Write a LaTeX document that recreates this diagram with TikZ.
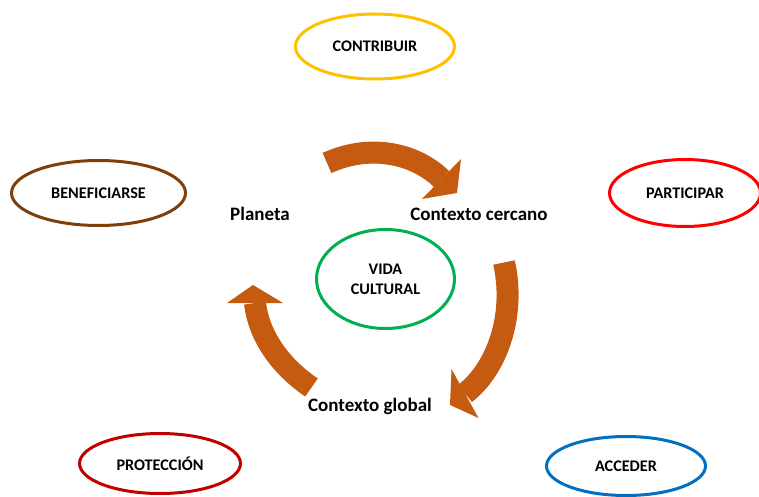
\documentclass[tikz,border=0pt]{standalone}
\usepackage{fontspec}
\setmainfont{Carlito}[BoldFont={Carlito Bold}]
\usetikzlibrary{shapes.geometric}
\definecolor{cyclebrown}{HTML}{C55A11}
\definecolor{ovalgold}{HTML}{FFC000}
\definecolor{ovalbrown}{HTML}{7F3F0A}
\definecolor{ovalred}{HTML}{FF0000}
\definecolor{ovaldarkred}{HTML}{C00000}
\definecolor{ovalblue}{HTML}{0070C0}
\definecolor{ovalgreen}{HTML}{00B050}
\begin{document}
\begin{tikzpicture}[x=1pt,y=-1pt,
        oval/.style={ellipse,line width=3pt,inner sep=0pt,align=center,
            font=\bfseries\fontsize{16.2}{20}\selectfont},
        ctxtext/.style={anchor=base,inner sep=0pt,font=\bfseries\fontsize{19}{23}\selectfont},
        cyclebody/.style={draw=cyclebrown,line width=22pt},
        cyclehead/.style={fill=cyclebrown}]
    \useasboundingbox (0,0) rectangle (759,497);
    % ovals round the cycle
    \node[oval,draw=ovalgold,minimum width=159pt,minimum height=65pt] (contribuir) at (375,46.5) {CONTRIBUIR};
    \node[oval,draw=ovalbrown,minimum width=174pt,minimum height=65pt] (beneficiarse) at (98.5,193) {BENEFICIARSE};
    \node[oval,draw=ovalred,minimum width=151pt,minimum height=67pt] (participar) at (685,193) {PARTICIPAR};
    \node[oval,draw=ovalgreen,minimum width=138pt,minimum height=99pt] (vida) at (385.5,279) {VIDA\\CULTURAL};
    \node[oval,draw=ovaldarkred,minimum width=161pt,minimum height=60pt] (proteccion) at (160,463.5) {PROTECCIÓN};
    \node[oval,draw=ovalblue,minimum width=159pt,minimum height=59pt] (acceder) at (626,466) {ACCEDER};
    % labels of the cycle
    \node[ctxtext] (planeta) at (260,220) {Planeta};
    \node[ctxtext] (cercano) at (479,220) {Contexto cercano};
    \node[ctxtext] (global) at (370,411) {Contexto global};
    % cycle arrows: tail, base of the head, two barbs, tip
    \coordinate (toptail) at (327,163);
    \coordinate (topbase) at (441.5,179);
    \coordinate (topbarba) at (461,159);
    \coordinate (topbarbb) at (422,199);
    \coordinate (tophead) at (457,193);
    \coordinate (righttail) at (504,262.5);
    \coordinate (rightbase) at (465,393.5);
    \coordinate (rightbarba) at (451.5,369);
    \coordinate (rightbarbb) at (478.5,418);
    \coordinate (righthead) at (450,405);
    \coordinate (lefttail) at (311.5,387.5);
    \coordinate (leftbase) at (255,303);
    \coordinate (leftbarba) at (227,303);
    \coordinate (leftbarbb) at (283,303);
    \coordinate (lefthead) at (253,285);
    \draw[cyclebody] (toptail) .. controls (371,143) and (415.6,153.8) .. (topbase);
    \fill[cyclehead] (topbarba) -- (tophead) -- (topbarbb) -- cycle;
    \draw[cyclebody] (righttail) .. controls (516,316) and (496.6,369) .. (rightbase);
    \fill[cyclehead] (rightbarba) -- (righthead) -- (rightbarbb) -- cycle;
    \draw[cyclebody] (lefttail) .. controls (277,364) and (258.3,332.7) .. (leftbase);
    \fill[cyclehead] (leftbarba) -- (lefthead) -- (leftbarbb) -- cycle;
\end{tikzpicture}
\end{document}
